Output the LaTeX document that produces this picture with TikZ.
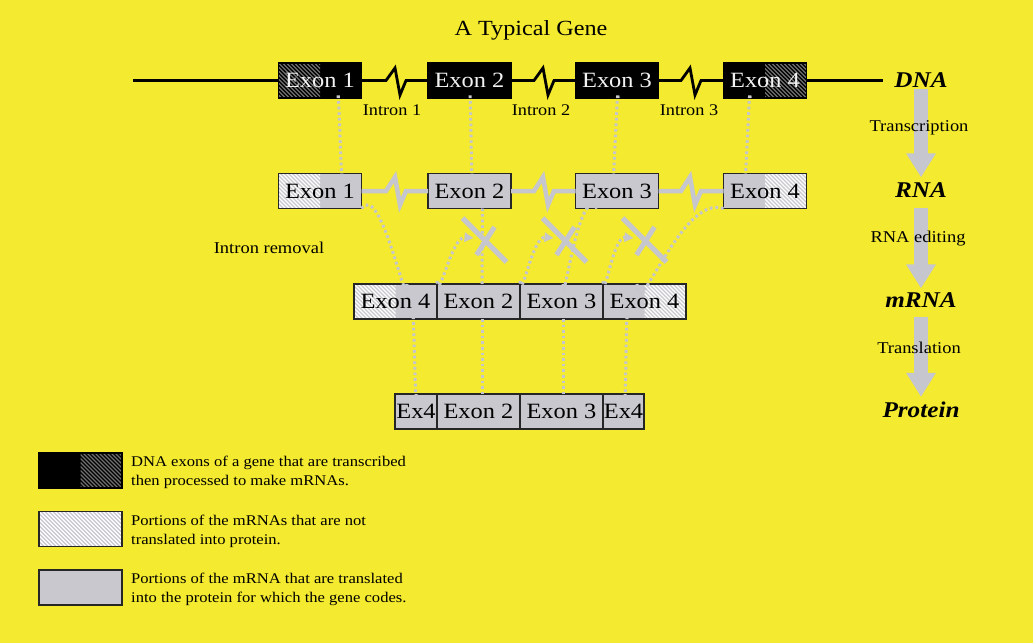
\documentclass[tikz,border=0pt]{standalone}
\usepackage{fontspec}
\setmainfont[FakeStretch=1.12]{Liberation Serif}
\usetikzlibrary{arrows.meta,calc}
\definecolor{bgyellow}{HTML}{F4EA2F}
\definecolor{boxgray}{HTML}{C8C8CE}
\definecolor{lgray}{HTML}{C5C6CE}
\definecolor{edgecol}{HTML}{262626}
\definecolor{darkhatch}{HTML}{707070}
\newcommand{\setfs}[1]{\fontsize{#1}{#1}\selectfont}
\newcommand{\hatchlines}[1]{\foreach \k in {-44,-40,...,92} {\draw[#1,line width=1.3pt] ([xshift=\k pt]path picture bounding box.north west) -- ++(44,44);}}
\begin{document}
\begin{tikzpicture}[x=1pt,y=-1pt,
  exonbase/.style={minimum width=83pt,minimum height=35pt,inner sep=0pt,outer sep=0pt,line width=1.2pt,font=\setfs{21.8}},
  dnaexon/.style={exonbase,fill=black,draw=black,text=white!90!gray},
  rnaexon/.style={exonbase,fill=boxgray,draw=edgecol,text=black},
  hatchL/.style={path picture={\clip (path picture bounding box.north west) rectangle ([xshift=41.5pt]path picture bounding box.south west); \hatchlines{#1}}},
  hatchR/.style={path picture={\clip ([xshift=-41.5pt]path picture bounding box.north east) rectangle (path picture bounding box.south east); \hatchlines{#1}}},
  hatchF/.style={path picture={\hatchlines{#1}}},
  dnaline/.style={line width=3.6pt,black,line join=miter},
  zigline/.style={line width=2.8pt,black,line join=miter},
  rnaline/.style={line width=4.5pt,lgray,line join=miter},
  dotline/.style={lgray,line width=3pt,dash pattern=on 2.6pt off 3pt},
  dotarrow/.style={dotline,-{Triangle[length=9pt,width=9pt]}},
  xstroke/.style={lgray,line width=5pt},
  bigarrow/.style={lgray,line width=14pt,-{Triangle[length=24pt,width=28pt]}},
  lab/.style={font=\setfs{22.5}\bfseries\itshape,inner sep=0pt},
  proc/.style={font=\setfs{16.5},inner sep=0pt},
  intronlab/.style={font=\setfs{16.3},inner sep=0pt},
  legtext/.style={font=\fontsize{14.8}{19}\selectfont,align=left,anchor=west,inner sep=0pt}]
\fill[bgyellow] (0,0) rectangle (1033,643);
\useasboundingbox (0,0) rectangle (1033,643);

\node[font=\setfs{21.6}] (title) at (531,30) {A Typical Gene};

% DNA row
\node[dnaexon,hatchL=darkhatch] (d1) at (320,80.5) {Exon 1};
\node[dnaexon] (d2) at (469.5,80.5) {Exon 2};
\node[dnaexon] (d3) at (617,80.5) {Exon 3};
\node[dnaexon,hatchR=darkhatch] (d4) at (765,80.5) {Exon 4};
\coordinate (dnaL) at (133,80.5);
\coordinate (dnaR) at (883,80.5);
\draw[dnaline] (dnaL) -- (d1.west);
\draw[dnaline] (d1.east) -- (387,80.5);
\draw[zigline] (386,80.5) -- (395,68) -- (400,95) -- (406,80.5);
\draw[dnaline] (405,80.5) -- (d2.west);
\draw[dnaline] (d2.east) -- (535,80.5);
\draw[zigline] (534,80.5) -- (543,68) -- (548,95) -- (554,80.5);
\draw[dnaline] (553,80.5) -- (d3.west);
\draw[dnaline] (d3.east) -- (682,80.5);
\draw[zigline] (681,80.5) -- (690,68) -- (695,95) -- (701,80.5);
\draw[dnaline] (700,80.5) -- (d4.west);
\draw[dnaline] (d4.east) -- (dnaR);
\node[intronlab] (i1) at (392,110) {Intron 1};
\node[intronlab] (i2) at (541,110) {Intron 2};
\node[intronlab] (i3) at (689,110) {Intron 3};

% RNA row
\node[rnaexon,hatchL=white] (r1) at (320,191) {Exon 1};
\node[rnaexon] (r2) at (469.5,191) {Exon 2};
\node[rnaexon] (r3) at (617,191) {Exon 3};
\node[rnaexon,hatchR=white] (r4) at (765,191) {Exon 4};
\draw[rnaline] (r1.east) -- (386,191) -- (395,177) -- (400,205) -- (406,191) -- (r2.west);
\draw[rnaline] (r2.east) -- (534,191) -- (543,177) -- (548,205) -- (554,191) -- (r3.west);
\draw[rnaline] (r3.east) -- (681,191) -- (690,177) -- (695,205) -- (701,191) -- (r4.west);

\node[proc] (irem) at (269,248) {Intron removal};

% mRNA row
\node[rnaexon,hatchL=white] (m1) at (395.5,301.5) {Exon 4};
\node[rnaexon] (m2) at (478.5,301.5) {Exon 2};
\node[rnaexon] (m3) at (561.5,301.5) {Exon 3};
\node[rnaexon,hatchR=white] (m4) at (644.5,301.5) {Exon 4};

% Protein row
\node[rnaexon,minimum width=42pt] (p1) at (416,411.5) {Ex4};
\node[rnaexon] (p2) at (478.5,411.5) {Exon 2};
\node[rnaexon] (p3) at (561.5,411.5) {Exon 3};
\node[rnaexon,minimum width=41pt] (p4) at (623.5,411.5) {Ex4};

% DNA -> RNA dotted
\draw[dotline] ([xshift=18pt]d1.south) to[out=90,in=-90] ([xshift=22pt]r1.north);
\draw[dotline] ([xshift=0.5pt]d2.south) to[out=90,in=-90] ([xshift=2.5pt]r2.north);
\draw[dotline] ([xshift=1pt]d3.south) to[out=90,in=-90] ([xshift=-4pt]r3.north);
\draw[dotline] ([xshift=-15pt]d4.south) to[out=90,in=-90] ([xshift=-20pt]r4.north);

% RNA -> mRNA dotted
\draw[dotline] (r1.south east) to[out=55,in=-90] ([xshift=11.5pt]m1.north);
\draw[dotline] ([xshift=13pt]r2.south) -- ([xshift=3.5pt]m2.north);
\draw[dotline] ([xshift=-20pt]r3.south) to[out=125,in=-90] ([xshift=1.5pt]m3.north);
\draw[dotline] (r4.south west) to[out=160,in=-90] ([xshift=-7.5pt]m4.north);

% splice crosses
\coordinate (x1) at (485.5,241);
\coordinate (x2) at (565.5,241);
\coordinate (x3) at (645.5,241);
\foreach \c in {x1,x2,x3} {
  \draw[xstroke] ($(\c)+(-23,-23)$) -- ($(\c)+(21,21)$);
  \draw[xstroke] ($(\c)+(9,-14)$) -- ($(\c)+(-9,14)$);
  \coordinate (\c t) at ($(\c)+(-12,-3)$);
}
\draw[dotarrow] ([yshift=3pt]m1.north east) to[out=-85,in=175] (x1t);
\draw[dotarrow] ([yshift=3pt]m2.north east) to[out=-85,in=175] (x2t);
\draw[dotarrow] ([yshift=3pt]m3.north east) to[out=-85,in=175] (x3t);

% mRNA -> protein dotted
\draw[dotline] ([xshift=17.5pt]m1.south) to[out=90,in=-90] (p1.north);
\draw[dotline] ([xshift=3.5pt]m2.south) -- ([xshift=3.5pt]p2.north);
\draw[dotline] ([xshift=1.5pt]m3.south) -- ([xshift=1.5pt]p3.north);
\draw[dotline] ([xshift=-17.5pt]m4.south) to[out=90,in=-90] ([xshift=1.5pt]p4.north);

% right column
\node[lab] (L1) at (921,80) {DNA};
\node[lab] (L2) at (921,190) {RNA};
\node[lab] (L3) at (921,300) {mRNA};
\node[lab] (L4) at (921,410) {Protein};
\draw[bigarrow,shorten <=1pt,shorten >=5pt] (L1.south) -- (L2.north);
\draw[bigarrow,shorten <=10pt,shorten >=4pt] (L2.south) -- (L3.north);
\draw[bigarrow,shorten <=9pt,shorten >=5pt] (L3.south) -- (L4.north);
\node[proc] (t1) at (919,128) {Transcription};
\node[proc] (t2) at (918,239) {RNA editing};
\node[proc] (t3) at (919,348) {Translation};

% legend
\node[dnaexon,hatchR=darkhatch] (k1) at (80.5,470.5) {};
\node[rnaexon,hatchF=white] (k2) at (80.5,529) {};
\node[rnaexon] (k3) at (80.5,587.5) {};
\node[legtext] (lt1) at ($(k1.east)+(9,2)$) {DNA exons of a gene that are transcribed\\then processed to make mRNAs.};
\node[legtext] (lt2) at ($(k2.east)+(9,2)$) {Portions of the mRNAs that are not\\translated into protein.};
\node[legtext] (lt3) at ($(k3.east)+(9,2)$) {Portions of the mRNA that are translated\\into the protein for which the gene codes.};
\end{tikzpicture}
\end{document}
